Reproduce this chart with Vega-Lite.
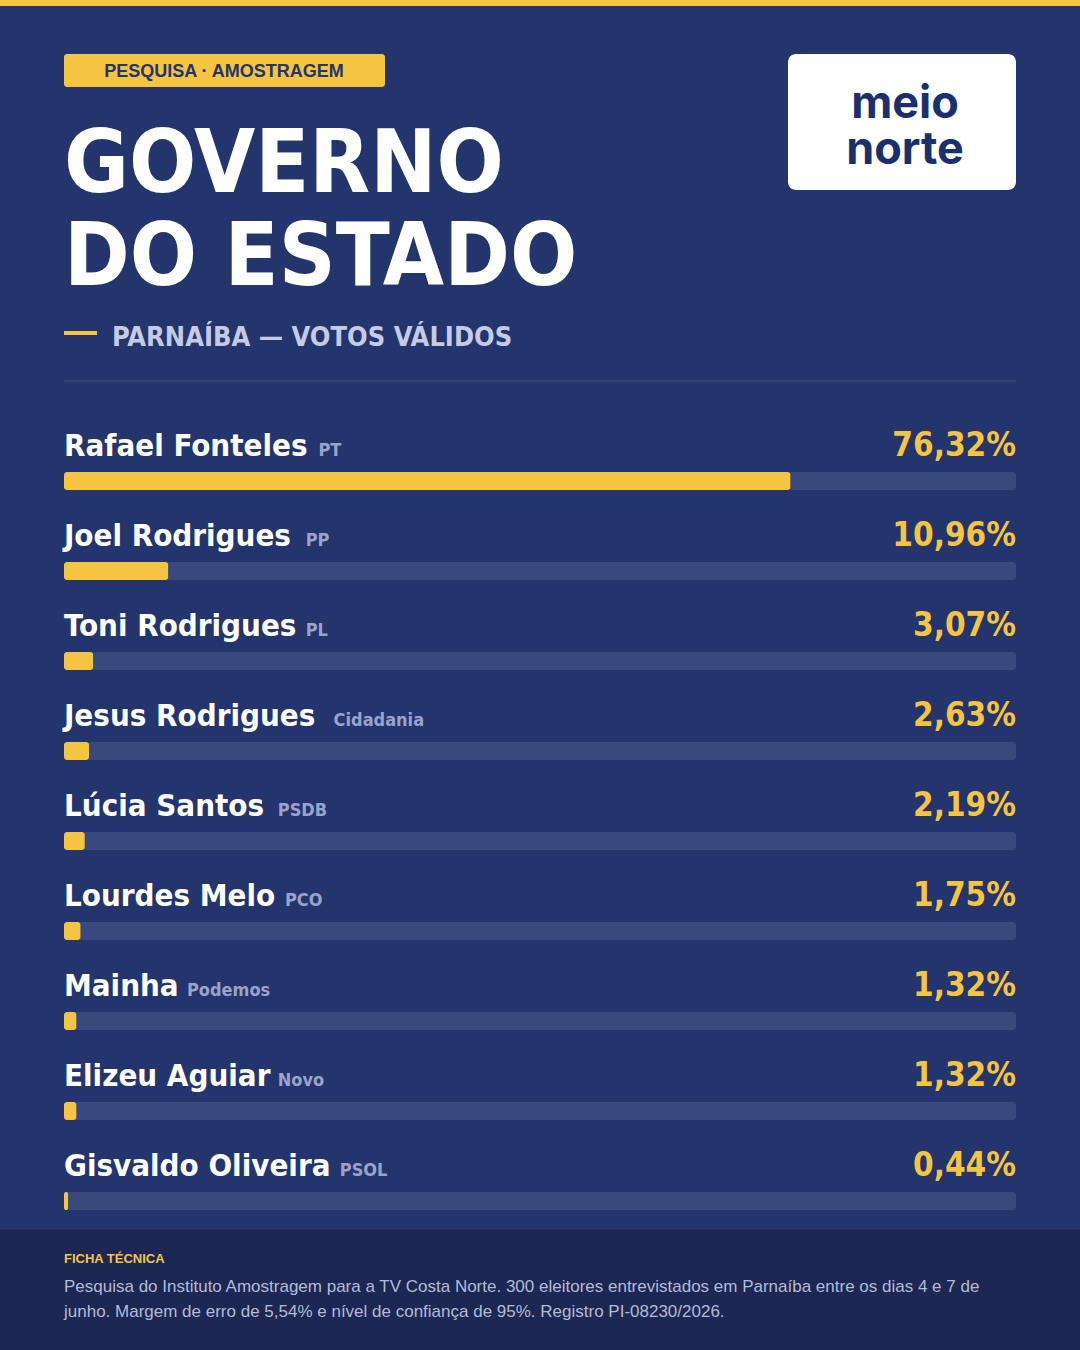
{
  "$schema": "https://vega.github.io/schema/vega-lite/v6.json",
  "description": "Governo do Estado - Parnaíba - votos válidos",
  "background": "#24346c",
  "autosize": {"type": "none"},
  "width": 952,
  "height": 810,
  "padding": {"left": 64, "top": 412, "right": 64, "bottom": 128},
  "datasets": {
    "polls": [
      {"name": "Rafael Fonteles", "party": "PT", "pct": 76.32},
      {"name": "Joel Rodrigues", "party": "PP", "pct": 10.96},
      {"name": "Toni Rodrigues", "party": "PL", "pct": 3.07},
      {"name": "Jesus Rodrigues", "party": "Cidadania", "pct": 2.63},
      {"name": "Lúcia Santos", "party": "PSDB", "pct": 2.19},
      {"name": "Lourdes Melo", "party": "PCO", "pct": 1.75},
      {"name": "Mainha", "party": "Podemos", "pct": 1.32},
      {"name": "Elizeu Aguiar", "party": "Novo", "pct": 1.32},
      {"name": "Gisvaldo Oliveira", "party": "PSOL", "pct": 0.44}
    ]
  },
  "layer": [
    {
      "data": {"values": [{}]},
      "mark": {"type": "rect", "color": "#f5c542"},
      "encoding": {"x": {"value": -64}, "x2": {"value": 1016}, "y": {"value": -412}, "y2": {"value": -406}}
    },
    {
      "data": {"values": [{}]},
      "mark": {"type": "rect", "color": "#f5c542", "cornerRadius": 3},
      "encoding": {"x": {"value": 0}, "x2": {"value": 321}, "y": {"value": -358}, "y2": {"value": -325}}
    },
    {
      "data": {"values": [{}]},
      "mark": {"type": "text", "text": "PESQUISA · AMOSTRAGEM", "font": "Liberation Sans", "fontWeight": "bold", "fontSize": 18, "color": "#24346c", "align": "center", "baseline": "alphabetic"},
      "encoding": {"x": {"value": 160}, "y": {"value": -335}}
    },
    {
      "data": {"values": [{}]},
      "mark": {"type": "text", "text": ["GOVERNO", "DO ESTADO"], "lineHeight": 93, "font": "DejaVu Sans Condensed, Roboto Condensed, Roboto, sans-serif", "fontWeight": "bold", "fontSize": 88, "color": "#ffffff", "align": "left", "baseline": "alphabetic"},
      "encoding": {"x": {"value": 0}, "y": {"value": -220}}
    },
    {
      "data": {"values": [{}]},
      "mark": {"type": "rule", "color": "#f5c542", "strokeWidth": 4},
      "encoding": {"x": {"value": 0}, "x2": {"value": 33}, "y": {"value": -79}}
    },
    {
      "data": {"values": [{}]},
      "mark": {"type": "text", "text": "PARNAÍBA — VOTOS VÁLIDOS", "font": "DejaVu Sans Condensed, Roboto Condensed, Roboto, sans-serif", "fontWeight": "bold", "fontSize": 27, "color": "#c5cbe5", "align": "left", "baseline": "alphabetic"},
      "encoding": {"x": {"value": 48}, "y": {"value": -66}}
    },
    {
      "data": {"values": [{}]},
      "mark": {"type": "rule", "color": "#3a4a80", "strokeWidth": 1.5},
      "encoding": {"x": {"value": 0}, "x2": {"value": 952}, "y": {"value": -31}}
    },
    {
      "data": {"values": [{}]},
      "mark": {"type": "rect", "color": "#ffffff", "cornerRadius": 8},
      "encoding": {"x": {"value": 724}, "x2": {"value": 952}, "y": {"value": -358}, "y2": {"value": -222}}
    },
    {
      "data": {"values": [{}]},
      "mark": {"type": "text", "text": ["meio", "norte"], "lineHeight": 46, "font": "Inter", "fontWeight": "bold", "fontSize": 45, "color": "#1b2f6e", "align": "center", "baseline": "alphabetic"},
      "encoding": {"x": {"value": 841}, "y": {"value": -294}}
    },
    {
      "data": {"name": "polls"},
      "mark": {"type": "bar", "color": "#3a497d", "height": 18, "cornerRadius": 3, "yOffset": 24},
      "encoding": {
        "y": {"field": "name", "type": "nominal", "sort": null, "axis": null, "scale": {"paddingInner": 0, "paddingOuter": 0}},
        "x": {"datum": 0, "type": "quantitative", "scale": {"domain": [0, 100]}, "axis": null},
        "x2": {"datum": 100}
      }
    },
    {
      "data": {"name": "polls"},
      "mark": {"type": "bar", "color": "#f5c542", "height": 18, "cornerRadius": 3, "yOffset": 24},
      "encoding": {
        "y": {"field": "name", "type": "nominal", "sort": null},
        "x": {"field": "pct", "type": "quantitative"}
      }
    },
    {
      "data": {"name": "polls"},
      "mark": {"type": "text", "font": "DejaVu Sans Condensed, Roboto Condensed, Roboto, sans-serif", "fontWeight": "bold", "fontSize": 31, "color": "#ffffff", "align": "left", "baseline": "alphabetic", "yOffset": -1},
      "encoding": {
        "y": {"field": "name", "type": "nominal", "sort": null},
        "x": {"datum": 0, "type": "quantitative"},
        "text": {"field": "name"}
      }
    },
    {
      "data": {"name": "polls"},
      "mark": {
        "type": "text", "font": "DejaVu Sans Condensed, Roboto Condensed, Roboto, sans-serif", "fontWeight": "bold", "fontSize": 18, "color": "#9aa3cc", "align": "left", "baseline": "alphabetic", "yOffset": -1,
        "dx": {"expr": "31 * (0.6 * length(datum.name) - 0.3 * length(replace(datum.name, /[^ilj ]/g, '')) - 0.19 * length(replace(datum.name, /[^tfr]/g, '')) + 0.05 * length(replace(datum.name, /[^A-ZÁÉÍÓÚ]/g, '')) + 0.23 * length(replace(datum.name, /[^M]/g, '')) + 0.1 * length(replace(datum.name, /[^GO]/g, ''))) + 12"}
      },
      "encoding": {
        "y": {"field": "name", "type": "nominal", "sort": null},
        "x": {"datum": 0, "type": "quantitative"},
        "text": {"field": "party"}
      }
    },
    {
      "data": {"name": "polls"},
      "transform": [{"calculate": "replace(format(datum.pct, '.2f'), '.', ',') + '%'", "as": "label"}],
      "mark": {"type": "text", "font": "DejaVu Sans Condensed, Roboto Condensed, Roboto, sans-serif", "fontWeight": "bold", "fontSize": 33, "color": "#f5c542", "align": "right", "baseline": "alphabetic", "yOffset": -1},
      "encoding": {
        "y": {"field": "name", "type": "nominal", "sort": null},
        "x": {"datum": 100, "type": "quantitative"},
        "text": {"field": "label"}
      }
    },
    {
      "data": {"values": [{}]},
      "mark": {"type": "rect", "color": "#1c2753"},
      "encoding": {"x": {"value": -64}, "x2": {"value": 1016}, "y": {"value": 817}, "y2": {"value": 938}}
    },
    {
      "data": {"values": [{}]},
      "mark": {"type": "rule", "color": "#2e3b6e", "strokeWidth": 1},
      "encoding": {"x": {"value": -64}, "x2": {"value": 1016}, "y": {"value": 817}}
    },
    {
      "data": {"values": [{}]},
      "mark": {"type": "text", "text": "FICHA TÉCNICA", "font": "Liberation Sans", "fontWeight": "bold", "fontSize": 13, "color": "#f5c542", "align": "left", "baseline": "alphabetic"},
      "encoding": {"x": {"value": 0}, "y": {"value": 851}}
    },
    {
      "data": {"values": [{}]},
      "mark": {"type": "text", "text": ["Pesquisa do Instituto Amostragem para a TV Costa Norte. 300 eleitores entrevistados em Parnaíba entre os dias 4 e 7 de", "junho. Margem de erro de 5,54% e nível de confiança de 95%. Registro PI-08230/2026."], "lineHeight": 25, "font": "Liberation Sans", "fontSize": 17, "color": "#b4bbd8", "align": "left", "baseline": "alphabetic"},
      "encoding": {"x": {"value": 0}, "y": {"value": 880}}
    }
  ],
  "config": {
    "view": {"stroke": null}
  }
}
